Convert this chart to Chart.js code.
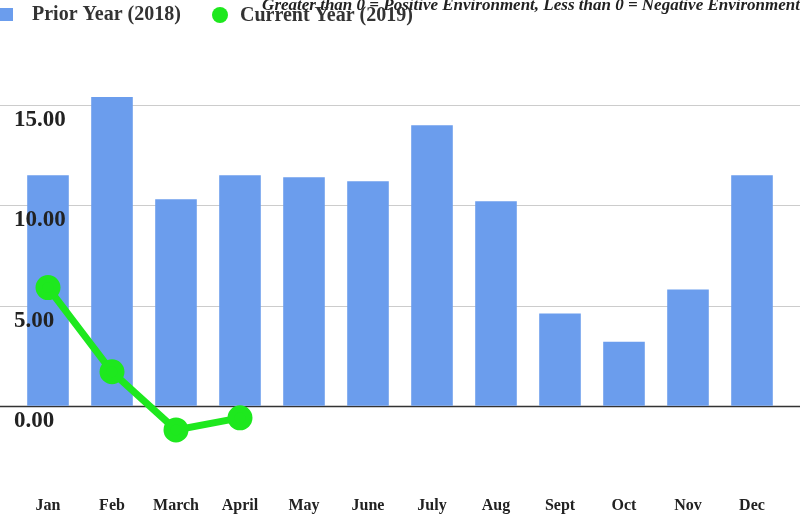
<!DOCTYPE html>
<html><head><meta charset="utf-8">
<script src="https://cdn.jsdelivr.net/npm/chart.js@4/dist/chart.umd.min.js"></script>
<style>html,body{margin:0;padding:0;background:#fff}#w{width:800px;height:532px}</style>
</head><body><div id="w"><canvas id="c"></canvas></div>
<script>
const categories = ["Jan","Feb","March","April","May","June","July","Aug","Sept","Oct","Nov","Dec"];
const priorYear = [11.5,15.4,10.3,11.5,11.4,11.2,14.0,10.2,4.6,3.2,5.8,11.5];
const currentYear = [5.9,1.7,-1.2,-0.6,null,null,null,null,null,null,null,null];
const yTicks = [0,5,10,15];
const titleText = "Greater than 0 = Positive Environment, Less than 0 = Negative Environment";
const seriesNames = ["Prior Year (2018)","Current Year (2019)"];
const barColor = '#6b9ded', lineColor = '#1ee81e';

const overlay = {
  id:'overlay',
  beforeDatasetsDraw(chart){
    const ctx = chart.ctx, y = chart.scales.y;
    ctx.save();
    yTicks.forEach(v=>{
      const py = Math.round(y.getPixelForValue(v))+0.5;
      ctx.strokeStyle = v===0 ? '#333' : '#ccc';
      ctx.lineWidth = v===0 ? 1.5 : 1;
      ctx.beginPath(); ctx.moveTo(0,py); ctx.lineTo(800,py); ctx.stroke();
    });
    ctx.restore();
  },
  afterDatasetsDraw(chart){
    const ctx = chart.ctx, y = chart.scales.y;
    ctx.save();
    ctx.font = "bold 23px 'Liberation Serif'";
    ctx.fillStyle = '#222'; ctx.textAlign='left'; ctx.textBaseline='middle';
    yTicks.forEach(v=>{ ctx.fillText(v.toFixed(2), 14, y.getPixelForValue(v)+15); });
    // title
    ctx.font = "italic bold 17px 'Liberation Serif'";
    ctx.textAlign='right'; ctx.textBaseline='top';
    ctx.fillText(titleText, 800, -3);
    // legend
    ctx.textAlign='left'; ctx.textBaseline='middle';
    ctx.font = "bold 20px 'Liberation Serif'";
    ctx.fillStyle = barColor; ctx.fillRect(0,8,13,13);
    ctx.fillStyle = '#333'; ctx.fillText(seriesNames[0], 32, 15);
    ctx.fillStyle = lineColor; ctx.beginPath(); ctx.arc(220,15,8,0,Math.PI*2); ctx.fill();
    ctx.fillStyle = '#333'; ctx.fillText(seriesNames[1], 240, 16);
    ctx.restore();
  }
};

new Chart(document.getElementById('c'), {
  data:{
    labels: categories,
    datasets:[
      {type:'line', label:seriesNames[1], data: currentYear, borderColor:lineColor, backgroundColor:lineColor,
       borderWidth:7, pointRadius:9, pointHoverRadius:9, spanGaps:false, order:0},
      {type:'bar', label:seriesNames[0], data: priorYear, backgroundColor:barColor,
       categoryPercentage:1, barPercentage:0.65, order:1}
    ]
  },
  options:{
    responsive:true, maintainAspectRatio:false, animation:false,
    layout:{padding:{left:12,right:11,top:73,bottom:0}},
    plugins:{ legend:{display:false}, tooltip:{enabled:false} },
    scales:{
      x:{grid:{display:false}, border:{display:false},
         ticks:{font:{family:"'Liberation Serif'", size:16, weight:'bold'}, color:'#222', padding:17}},
      y:{min:-3.24, max:16.6, display:true,
         afterBuildTicks(s){ s.ticks = yTicks.map(v=>({value:v})); },
         afterFit(s){ s.width = 0; },
         grid:{display:false}, border:{display:false},
         ticks:{display:false}}
    }
  },
  plugins:[overlay]
});
</script></body></html>
